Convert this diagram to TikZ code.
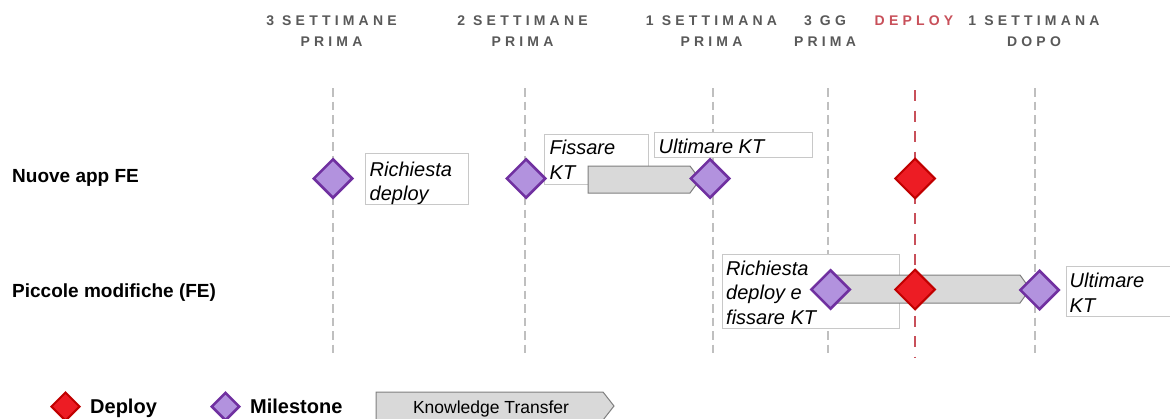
\documentclass[tikz,border=0pt]{standalone}
\usepackage{fontspec}
\setmainfont{Liberation Sans}
\newfontfamily\hdrfont{Liberation Sans}[LetterSpace=30]
\usetikzlibrary{shapes.geometric}

\definecolor{gridgray}{RGB}{191,191,191}
\definecolor{deployline}{RGB}{200,80,90}
\definecolor{hdrgray}{RGB}{89,89,89}
\definecolor{msfill}{RGB}{178,146,222}
\definecolor{msborder}{RGB}{112,48,160}
\definecolor{dpfill}{RGB}{237,28,36}
\definecolor{dpborder}{RGB}{192,0,0}
\definecolor{ktfill}{RGB}{217,217,217}
\definecolor{ktborder}{RGB}{127,127,127}
\definecolor{boxborder}{RGB}{200,200,200}

\begin{document}
\begin{tikzpicture}[x=1pt,y=-1pt,
  gridline/.style={draw=gridgray,line width=2.6pt,dash pattern=on 8.5pt off 5pt},
  deployline/.style={draw=deployline,line width=2.7pt,dash pattern=on 11pt off 9.5pt},
  hdr/.style={font=\hdrfont\bfseries\fontsize{14}{20.5}\selectfont,text=hdrgray,align=center,inner sep=0pt,anchor=north},
  rowlbl/.style={font=\bfseries\fontsize{19}{23}\selectfont,inner sep=0pt,anchor=base west},
  notebox/.style={draw=boxborder,line width=0.9pt,fill=white,rectangle,inner sep=0pt,anchor=north west},
  notetext/.style={font=\itshape\fontsize{20}{24.5}\selectfont,align=left,inner sep=0pt,anchor=north west},
  milestone/.style={diamond,aspect=1,draw=msborder,fill=msfill,line width=2.5pt,minimum width=#1,minimum height=#1,inner sep=0pt},
  milestone/.default=39.5pt,
  deploy/.style={diamond,aspect=1,draw=dpborder,fill=dpfill,line width=2pt,minimum width=#1,minimum height=#1,inner sep=0pt},
  deploy/.default=40.5pt,
  ktbar/.style={draw=ktborder,fill=ktfill,line width=1pt},
  legtext/.style={font=\bfseries\fontsize{20}{24}\selectfont,inner sep=0pt,anchor=base west}
]
\useasboundingbox (0,0) rectangle (1170,418);

% time markers: top and bottom end of each vertical line
\foreach \n/\x in {w3/333,w2/525,w1/713,d3/828,a1/1035}{
  \coordinate (\n top) at (\x,88);
  \coordinate (\n bot) at (\x,357);
}
\coordinate (deptop) at (915,90);
\coordinate (depbot) at (915,357);

\draw[gridline] (w3top) -- (w3bot);
\draw[gridline] (w2top) -- (w2bot);
\draw[gridline] (w1top) -- (w1bot);
\draw[gridline] (d3top) -- (d3bot);
\draw[gridline] (a1top) -- (a1bot);
\draw[deployline] (deptop) -- (depbot);

% column headers
\node[hdr] (h3w) at (331.5,16) {3 SETTIMANE\\PRIMA};
\node[hdr] (h2w) at (522.5,16) {2 SETTIMANE\\PRIMA};
\node[hdr] (h1w) at (711.5,16) {1 SETTIMANA\\PRIMA};
\node[hdr] (h3d) at (825,16) {3 GG\\PRIMA};
\node[hdr,text=deployline] (hdep) at (914,16) {DEPLOY};
\node[hdr] (h1a) at (1034,16) {1 SETTIMANA\\DOPO};

% row labels
\node[rowlbl] (r1) at (12,182) {Nuove app FE};
\node[rowlbl] (r2) at (12,297) {Piccole modifiche (FE)};

% note boxes
\node[notebox,minimum width=103pt,minimum height=51pt] (b1) at (365,153) {};
\node[notebox,minimum width=104pt,minimum height=50pt] (b2) at (544,134) {};
\node[notebox,minimum width=158pt,minimum height=25pt] (b3) at (654,132) {};
\node[notebox,minimum width=177pt,minimum height=74pt] (b4) at (722,254) {};
\node[notebox,minimum width=120pt,minimum height=50pt] (b5) at (1066,266) {};

\node[notetext] (t1) at (369.5,161.7) {Richiesta\\deploy};
\node[notetext] (t2) at (549.5,140) {Fissare\\KT};
\node[notetext] (t3) at (658.5,138.7) {Ultimare KT};
\node[notetext] (t4) at (726,260.7) {Richiesta\\deploy e\\fissare KT};
\node[notetext] (t5) at (1069.5,273.2) {Ultimare\\KT};

% knowledge transfer bars
\draw[ktbar] (588,166) -- (690,166) -- (700,179.5) -- (690,193) -- (588,193) -- cycle;
\draw[ktbar] (836,275) -- (1020,275) -- (1030,289) -- (1020,303) -- (836,303) -- cycle;

% milestones and deploys
\node[milestone] (m1) at (333,178.5) {};
\node[milestone] (m2) at (526,178.5) {};
\node[milestone] (m3) at (710,178.5) {};
\node[deploy] (d1) at (915,178.5) {};
\node[milestone] (m4) at (830.5,289.5) {};
\node[deploy] (d2) at (915,289.5) {};
\node[milestone] (m5) at (1039.5,290) {};

% legend
\node[deploy=29pt] (ld) at (65.5,406.5) {};
\node[legtext] (ldt) at (90,413) {Deploy};
\node[milestone=28.5pt] (lm) at (225.5,406.5) {};
\node[legtext] (lmt) at (250,413) {Milestone};
\draw[ktbar] (376,392) -- (603,392) -- (614,406) -- (603,420) -- (376,420) -- cycle;
\node[font=\fontsize{17.5}{20}\selectfont,inner sep=0pt,anchor=base] (lkt) at (491,413) {Knowledge Transfer};
\end{tikzpicture}
\end{document}
